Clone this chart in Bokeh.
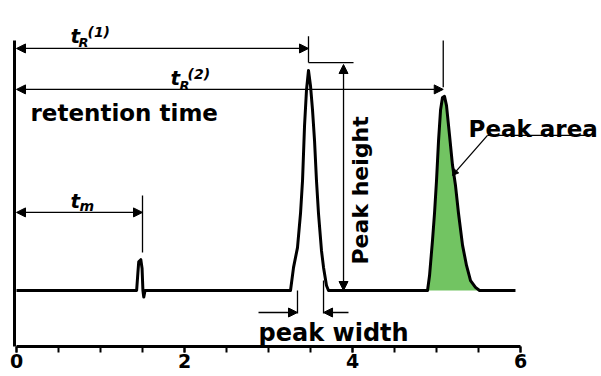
from bokeh.plotting import figure
from bokeh.models import Range1d, FixedTicker, Arrow, NormalHead
from bokeh.core.properties import value
from bokeh.embed import file_html
from bokeh.resources import INLINE
import math

# ---- axis ticks ----
x_ticks = [0, 2, 4, 6]
x_minor = [0, 0.5, 1, 1.5, 2, 2.5, 3, 3.5, 4, 4.5, 5, 5.5, 6]

# ---- chromatogram (time, signal) ----
run_start, run_end = 0.0, 5.94
peak1_t = [1.43, 1.445, 1.455, 1.48, 1.495, 1.505, 1.515, 1.53]
peak1_s = [0, 8, 13, 14, 10, 0, -3, 0]
peak2_t = [3.262, 3.298, 3.345, 3.381, 3.405, 3.429, 3.452, 3.476, 3.50, 3.524,
           3.548, 3.571, 3.595, 3.631, 3.655, 3.69, 3.714]
peak2_s = [0, 10.5, 19.5, 35, 50, 75, 91, 100, 93, 82, 68, 50, 35, 18, 10.5, 2.3, 0]
peak3_t = [4.893, 4.917, 4.952, 4.976, 5.0, 5.024, 5.048, 5.071, 5.095, 5.119,
           5.155, 5.19, 5.226, 5.262, 5.31, 5.357, 5.405, 5.464, 5.512]
peak3_s = [0, 6.8, 22.7, 35, 50, 68, 82, 87.7, 88.2, 84, 70.5, 57, 47.7, 35,
           20.5, 11.4, 4.5, 1.4, 0]

# ---- characteristic times ----
t_m = 1.50
t_R1 = 3.476
t_R2 = 5.08

# ---- annotation levels (signal units) ----
lvl_tR1 = 110
lvl_tR2 = 91.4
lvl_tm = 35.5
lvl_width = -10
top_tR1 = 115.5
top_tR2 = 113.6
top_height = 103.6
x_height_arrow = 3.893
x_height_end = 4.012
pw_left, pw_right = 3.345, 3.655
pw_arrow_left, pw_arrow_right = 2.881, 3.952
leader_x = [6.833, 5.607, 5.19]
leader_y = [70.5, 70.5, 52.3]

trace_t = [run_start] + peak1_t + peak2_t + peak3_t + [run_end]
trace_s = [0] + peak1_s + peak2_s + peak3_s + [0]

y_lo, y_hi = -25.45, 131.8

p = figure(width=601, height=376, output_backend="svg", toolbar_location=None,
           x_range=Range1d(-0.0238, 6.964), y_range=Range1d(y_lo, y_hi),
           min_border_left=14, min_border_right=0, min_border_top=0, min_border_bottom=30)
p.outline_line_color = None
p.grid.visible = False
p.background_fill_color = "white"

xa = p.xaxis[0]
xa.ticker = FixedTicker(ticks=x_ticks, minor_ticks=x_minor)
xa.bounds = (0, 6)
xa.axis_line_width = 3
xa.major_tick_line_width = 2
xa.minor_tick_line_width = 2
xa.major_tick_out = 6
xa.major_tick_in = 0
xa.minor_tick_out = 6
xa.minor_tick_in = 0
xa.major_label_standoff = 1
xa.major_label_text_font = "DejaVu Sans"
xa.major_label_text_font_style = "bold"
xa.major_label_text_font_size = "19px"
xa.major_label_text_color = "black"

ya = p.yaxis[0]
ya.ticker = FixedTicker(ticks=[])
ya.bounds = (y_lo, top_tR2)
ya.axis_line_width = 3
ya.major_tick_out = 0
ya.minor_tick_out = 0
ya.major_label_standoff = 0
ya.major_label_text_font_size = "0px"

# green peak area
p.varea(x=peak3_t, y1=[0] * len(peak3_t), y2=peak3_s, fill_color="#72c462")
# trace
p.line(trace_t, trace_s, line_color="black", line_width=3, line_join="round")

# thin dimension lines
p.segment(x0=[t_R1, t_R2, t_m, t_R1, pw_left, pw_right, leader_x[0]],
          y0=[top_height, lvl_tR2 + 1, 17.3, top_height, 0, 4.5, leader_y[0]],
          x1=[t_R1, t_R2, t_m, x_height_end, pw_left, pw_right, leader_x[1]],
          y1=[top_tR1, top_tR2, 43.2, top_height, lvl_width - 0.5, lvl_width - 0.5, leader_y[1]],
          line_color="black", line_width=1.3)

def head(sz=9):
    return NormalHead(size=sz, fill_color="black", line_color="black", line_width=1)

arrows = [
    (0, lvl_tR1, t_R1, lvl_tR1, True),
    (0, lvl_tR2, t_R2, lvl_tR2, True),
    (0, lvl_tm, t_m, lvl_tm, True),
    (x_height_arrow, 0, x_height_arrow, 102.7, True),
    (pw_arrow_left, lvl_width, pw_left, lvl_width, False),
    (pw_arrow_right, lvl_width, pw_right, lvl_width, False),
]
for xs, ys, xe, ye, both in arrows:
    p.add_layout(Arrow(x_start=xs, y_start=ys, x_end=xe, y_end=ye,
                       start=head() if both else None, end=head(),
                       line_color="black", line_width=1.3))
p.add_layout(Arrow(x_start=leader_x[1], y_start=leader_y[1], x_end=leader_x[2], y_end=leader_y[2],
                   end=head(6), line_color="black", line_width=1.3))

F = value("DejaVu Sans")
# plain labels
p.text(x=[0.167], y=[80.5], text=["retention time"], text_font=F, text_font_style="bold",
       text_font_size="23px", text_align="left", text_baseline="alphabetic", text_color="black")
p.text(x=[5.381], y=[73.6], text=["Peak area"], text_font=F, text_font_style="bold",
       text_font_size="23px", text_align="left", text_baseline="alphabetic", text_color="black")
p.text(x=[2.881], y=[-19.5], text=["peak width"], text_font=F, text_font_style="bold",
       text_font_size="24px", text_align="left", text_baseline="alphabetic", text_color="black")
p.text(x=[4.095], y=[45.5], text=["Peak height"], text_font=F, text_font_style="bold",
       text_font_size="22px", text_align="center", text_baseline="middle", angle=math.pi / 2,
       text_color="black")

# t symbols with sub/superscripts
p.text(x=[0.643, 1.833, 0.643], y=[115.5, 96.4, 40.5], text=["t", "t", "t"], text_font=F,
       text_font_style="bold italic", text_font_size="20px", text_align="left",
       text_baseline="alphabetic", text_color="black")
p.text(x=[0.738, 1.94], y=[112.7, 93.2], text=["R", "R"], text_font=F,
       text_font_style="bold italic", text_font_size="13px", text_align="left",
       text_baseline="alphabetic", text_color="black")
p.text(x=[0.845, 2.036], y=[117.7, 98.6], text=["(1)", "(2)"], text_font=F,
       text_font_style="bold italic", text_font_size="14px", text_align="left",
       text_baseline="alphabetic", text_color="black")
p.text(x=[0.75], y=[38.2], text=["m"], text_font=F,
       text_font_style="bold italic", text_font_size="14px", text_align="left",
       text_baseline="alphabetic", text_color="black")

open("out.html", "w").write(file_html(p, INLINE))
